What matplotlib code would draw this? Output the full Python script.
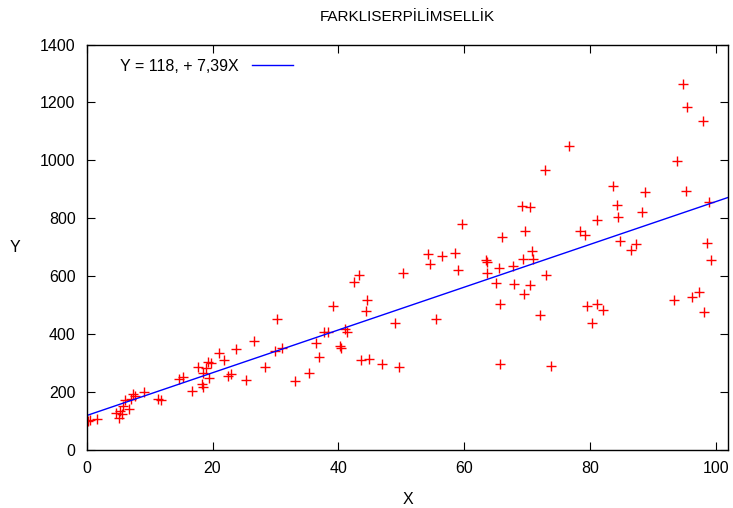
import numpy as np
import matplotlib.pyplot as plt

plt.rcParams['font.family'] = ['Liberation Sans', 'DejaVu Sans']

# scatter data
x = [0.2, 0.6, 1.7, 4.7, 5.3, 5.1, 5.6, 5.8, 6.1, 6.7, 7.1, 7.4, 7.6,
     9.1, 11.4, 11.8, 14.7, 15.3, 16.7, 17.7, 18.4, 18.5, 18.5, 19.0,
     19.3, 19.8, 19.4, 21.0, 21.9, 22.4, 22.9, 23.7, 25.3, 26.6, 28.3,
     30.0, 31.1, 30.3, 33.1, 35.3, 36.4, 37.0, 37.7, 38.3, 39.2, 40.2,
     40.4, 41.1, 41.4, 42.5, 43.3, 43.6, 44.9, 44.4, 44.6, 46.9, 49.0,
     49.7, 50.3, 54.2, 54.6, 55.6, 56.5, 58.5, 59.1, 59.6, 63.4, 63.7,
     63.7, 65.0, 65.5, 65.7, 65.7, 66.1, 67.7, 68.0, 69.3, 69.5, 69.7,
     70.4, 69.2, 70.4, 70.8, 71.0, 72.0, 72.9, 73.0, 73.8, 76.7, 78.4,
     79.2, 79.5, 80.3, 81.2, 81.2, 82.1, 83.6, 84.3, 84.5, 84.8, 86.5,
     87.3, 88.3, 88.8, 93.3, 93.8, 94.75, 95.2, 95.5, 96.3, 97.4, 98.0,
     98.1, 98.6, 98.9, 99.2]
y = [99, 104, 106, 127, 133, 110, 122, 151, 172, 141, 176, 193, 186,
     199, 174, 170, 245, 250, 202, 287, 228, 218, 264, 281,
     303, 299, 247, 333, 309, 256, 262, 347, 241, 377, 285,
     340, 353, 452, 236, 264, 369, 320, 406, 406, 495, 358,
     352, 416, 405, 580, 605, 310, 313, 478, 516, 296, 437,
     284, 610, 677, 642, 450, 669, 680, 622, 781, 656, 647,
     610, 577, 628, 503, 296, 735, 636, 572, 658, 539, 755,
     570, 843, 839, 685, 658, 466, 965, 605, 290, 1050, 755,
     743, 498, 437, 503, 794, 481, 912, 846, 804, 722, 691,
     711, 820, 889, 517, 996, 1262, 893, 1185, 528, 546, 1137,
     476, 714, 857, 654]

intercept = 118
slope = 7.39

fig = plt.figure(figsize=(7.33, 5.08), dpi=100)
ax = fig.add_axes([0.1183, 0.1148, 0.8753, 0.7976])

ax.plot(x, y, '+', color='red', markersize=7, markeredgewidth=1.0)
xl = np.array([0, 102])
ax.plot(xl, intercept + slope * xl, color='blue', linewidth=1.0,
        label='Y = 118, + 7,39X')

ax.set_xlim(0, 102)
ax.set_ylim(0, 1400)
ax.set_xticks([0, 20, 40, 60, 80, 100])
ax.set_yticks(range(0, 1401, 200))
ax.tick_params(direction='in', top=True, right=True, length=6,
               labelsize=11.5, pad=8)
for s in ax.spines.values():
    s.set_linewidth(1.0)

ax.set_title('FARKLISERPİLİMSELLİK', fontsize=11, pad=17)
ax.set_xlabel('X', fontsize=11.5, va='center')
ax.xaxis.set_label_coords(0.5, -0.124)
ax.set_ylabel('Y', fontsize=11.5, rotation=0, va='center', ha='center')
ax.yaxis.set_label_coords(-0.112, 0.5)

ax.legend(loc='upper left', markerfirst=False, frameon=False, fontsize=11.5,
          handlelength=2.6, bbox_to_anchor=(0.03, 1.0))

fig.savefig('out.png', dpi=100)
